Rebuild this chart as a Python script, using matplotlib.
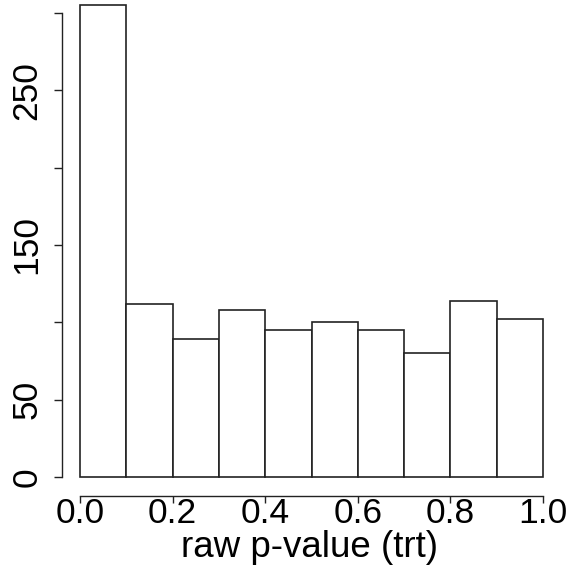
import numpy as np
import matplotlib
matplotlib.use('Agg')
import matplotlib.pyplot as plt

# histogram of raw p-values, counts per 0.1 bin
bin_edges = [0.0, 0.1, 0.2, 0.3, 0.4, 0.5, 0.6, 0.7, 0.8, 0.9, 1.0]
counts = [305, 112, 89, 108, 95, 100, 95, 80, 114, 102]
y_ticks = [0, 50, 100, 150, 200, 250, 300]
y_labels = ['0', '50', '', '150', '', '250', '']
x_ticks = [0.0, 0.2, 0.4, 0.6, 0.8, 1.0]
x_labels = ['0.0', '0.2', '0.4', '0.6', '0.8', '1.0']

plt.rcParams['font.family'] = ['Liberation Sans', 'DejaVu Sans']

W, H = 572, 570
fig = plt.figure(figsize=(W / 100, H / 100), dpi=100)
# R style plot region: 4% padding around data range
left, right = 61.5, 561.5
bottom, top = 496, -13.8
ax = fig.add_axes([left / W, 1 - bottom / H, (right - left) / W, (bottom - top) / H])

edges = np.array(bin_edges)
ax.bar(edges[:-1], counts, width=np.diff(edges), align='edge',
       facecolor='white', edgecolor='#222222', linewidth=1.2)

ax.set_xlim(-0.04, 1.04)
ax.set_ylim(-12.2, 317.2)

for s in ['top', 'right']:
    ax.spines[s].set_visible(False)
ax.spines['left'].set_bounds(0, 300)
ax.spines['bottom'].set_bounds(0, 1)
for s in ['left', 'bottom']:
    ax.spines[s].set_linewidth(1.0)
    ax.spines[s].set_color('#222222')

ax.set_yticks(y_ticks)
ax.set_yticklabels(y_labels, rotation=90, va='center')
ax.set_xticks(x_ticks)
ax.set_xticklabels(x_labels)
ax.tick_params(axis='y', length=5.8, width=1.0, pad=7, labelsize=25.5, colors='#222222', labelcolor='black')
ax.tick_params(axis='x', length=5, width=1.0, pad=-4, labelsize=25.5, colors='#222222', labelcolor='black')

fig.text(309.5 / W, 1 - 557 / H, 'raw p-value (trt)', fontsize=26.5,
         ha='center', va='baseline')

fig.savefig('out.png', dpi=100)
